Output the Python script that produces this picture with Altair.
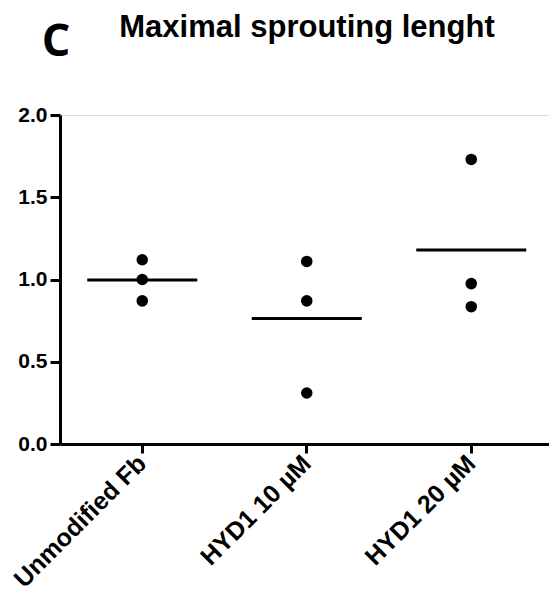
import altair as alt
import pandas as pd

categories = ["Unmodified Fb", "HYD1 10 µM", "HYD1 20 µM"]
unmodified = [1.12, 1.0, 0.87]
hyd1_10 = [1.11, 0.87, 0.31]
hyd1_20 = [1.73, 0.975, 0.835]
y_ticks = [0.0, 0.5, 1.0, 1.5, 2.0]
title_text = ["Maximal sprouting lenght"]
panel_letter = ["C"]

rows = []
for cat, vals in zip(categories, [unmodified, hyd1_10, hyd1_20]):
    for v in vals:
        rows.append({"group": cat, "value": v})
df = pd.DataFrame(rows)

FONT = "Liberation Sans"

x_enc = alt.X(
    "group:N",
    sort=categories,
    scale=alt.Scale(domain=categories, paddingInner=0, paddingOuter=0, range=[0, 493.5]),
    axis=alt.Axis(
        title=None,
        labelAngle=-45,
        labelAlign="right",
        labelBaseline="middle",
        labelFont=FONT,
        labelFontSize=25,
        labelFontWeight="bold",
        labelColor="black",
        labelPadding=6,
        domainColor="black",
        domainWidth=3,
        tickColor="black",
        tickWidth=3,
        tickSize=9,
        labelOverlap=False,
    ),
)
y_enc = alt.Y(
    "value:Q",
    scale=alt.Scale(domain=[0, 2], nice=False, zero=True),
    axis=alt.Axis(
        title=None,
        values=y_ticks,
        format=".1f",
        labelFont=FONT,
        labelFontSize=21,
        labelFontWeight="bold",
        labelColor="black",
        labelPadding=3,
        domainColor="black",
        domainWidth=3,
        tickColor="black",
        tickWidth=3,
        tickSize=10,
        grid=False,
    ),
)

points = alt.Chart(df).mark_circle(size=133, color="black", opacity=1).encode(x=x_enc, y=y_enc)
means = alt.Chart(df).mark_tick(color="black", size=110, thickness=3, opacity=1).encode(
    x=alt.X("group:N", sort=categories),
    y=alt.Y("mean(value):Q"),
)
label_c = alt.Chart(pd.DataFrame({"t": panel_letter})).mark_text(
    font="Open Sans", fontSize=45, fontWeight="bold", color="black",
    align="center", baseline="alphabetic"
).encode(x=alt.value(-4), y=alt.value(-59), text="t:N")
title_mark = alt.Chart(pd.DataFrame({"t": title_text})).mark_text(
    font=FONT, fontSize=31, fontWeight="bold", color="black",
    align="center", baseline="alphabetic"
).encode(x=alt.value(247), y=alt.value(-78), text="t:N")

chart = alt.layer(means, points, label_c, title_mark).properties(
    width=489,
    height=329,
    padding={"left": 60, "top": 115, "right": 0, "bottom": 148},
    autosize=alt.AutoSizeParams(type="none"),
).configure_view(stroke=None).configure(background="white")

chart.save("out.html", embed_options={"renderer": "svg", "actions": False})
